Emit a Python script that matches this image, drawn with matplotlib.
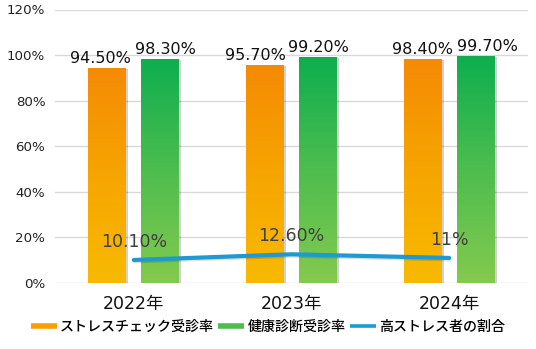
import numpy as np
import matplotlib
matplotlib.use("Agg")
import matplotlib.pyplot as plt
from matplotlib.colors import LinearSegmentedColormap
from matplotlib.lines import Line2D
import matplotlib.patheffects as pe

plt.rcParams['font.family'] = ['DejaVu Sans', 'Noto Sans CJK JP']

# data
years = ["2022年", "2023年", "2024年"]
stress_check = [94.5, 95.7, 98.4]      # ストレスチェック受診率 (%)
health_check = [98.3, 99.2, 99.7]      # 健康診断受診率 (%)
high_stress = [10.1, 12.6, 11.0]       # 高ストレス者の割合 (%)
stress_labels = ["94.50%", "95.70%", "98.40%"]
health_labels = ["98.30%", "99.20%", "99.70%"]
ratio_labels = ["10.10%", "12.60%", "11%"]
series_names = ["ストレスチェック受診率", "健康診断受診率", "高ストレス者の割合"]
yticks = [0, 20, 40, 60, 80, 100, 120]

orange_cmap = LinearSegmentedColormap.from_list("og", ["#F8BA00", "#F6A500", "#F58A05"])
green_cmap = LinearSegmentedColormap.from_list("gg", ["#84CA4E", "#4DBD4E", "#0DAE50"])
blue = "#1E9AD3"

fig = plt.figure(figsize=(5.36, 3.49), dpi=100)
ax = fig.add_axes([55 / 536, 66 / 349, 473 / 536, 273.5 / 349])

x = np.arange(len(years))
offset = 0.168
width = 0.241

shadow = [pe.SimplePatchShadow(offset=(1.5, -1.0), shadow_rgbFace="#000000", alpha=0.18), pe.Normal()]
bars_o = ax.bar(x - offset, stress_check, width, color="#F7A300", zorder=3, path_effects=shadow)
bars_g = ax.bar(x + offset, health_check, width, color="#4DBD4E", zorder=3, path_effects=shadow)

grad = np.linspace(0, 1, 256).reshape(-1, 1)
for bars, cmap in ((bars_o, orange_cmap), (bars_g, green_cmap)):
    for rect in bars:
        x0, w, h = rect.get_x(), rect.get_width(), rect.get_height()
        im = ax.imshow(grad, extent=[x0, x0 + w, 0, h], origin="lower", aspect="auto",
                       cmap=cmap, zorder=3.5, interpolation="bilinear")
        im.set_clip_path(rect)

# high-stress ratio line
ax.plot(x, high_stress, color=blue, lw=3.0, solid_capstyle="round", zorder=5,
        path_effects=[pe.SimpleLineShadow(offset=(0.5, -1.0), alpha=0.12), pe.Normal()])

# value labels
px = 0.72
nudge_o = [-6.5, -10, 0]
nudge_g = [5, 0, 12]
for i in range(len(years)):
    ax.annotate(stress_labels[i], (x[i] - offset, stress_check[i]),
                xytext=(nudge_o[i] * px, 5 * px), textcoords="offset points",
                ha="center", va="baseline", fontsize=11.5, color="#111111", zorder=6)
    ax.annotate(health_labels[i], (x[i] + offset, health_check[i]),
                xytext=(nudge_g[i] * px, 5 * px), textcoords="offset points",
                ha="center", va="baseline", fontsize=11.5, color="#111111", zorder=6)
    ax.annotate(ratio_labels[i], (x[i], high_stress[i]),
                xytext=(0, 13 * px), textcoords="offset points",
                ha="center", va="baseline", fontsize=12.5, color="#404040", zorder=6)

ax.set_xlim(-0.5, 2.5)
ax.set_ylim(0, 120)
ax.set_yticks(yticks)
ax.set_yticklabels([f"{v}%" for v in yticks], fontsize=9.6, color="#222222")
ax.set_xticks(x)
ax.set_xticklabels(years, fontsize=12.5, color="#111111")
ax.tick_params(axis="y", length=0, pad=7)
ax.tick_params(axis="x", length=0, pad=9)
ax.grid(axis="y", color="#D9D9D9", lw=1.0, zorder=0)
ax.set_axisbelow(True)
for s in ax.spines.values():
    s.set_visible(False)

handles = [Line2D([], [], color="#F7A000", lw=4.0, solid_capstyle="butt"),
           Line2D([], [], color="#4DBD4E", lw=4.0, solid_capstyle="butt"),
           Line2D([], [], color=blue, lw=2.6, solid_capstyle="butt")]
fig.legend(handles, series_names, loc="center", bbox_to_anchor=(0.5, 1 - 327 / 349),
           ncol=3, frameon=False, handlelength=1.85, handletextpad=0.25,
           columnspacing=0.3, borderaxespad=0,
           prop={"family": ["Noto Sans CJK JP"], "size": 10.1, "weight": "medium"})

fig.savefig("out.png", dpi=100)
